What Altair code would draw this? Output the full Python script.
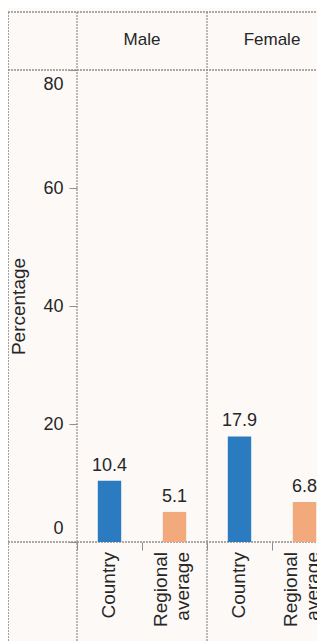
import altair as alt
import pandas as pd

sexes = ["Male", "Female"]
groups = ["Country", "Regional average"]
male_values = [10.4, 5.1]
female_values = [17.9, 6.8]
y_ticks = [0, 20, 40, 60, 80]

rows = []
for sex, vals in zip(sexes, [male_values, female_values]):
    for g, v in zip(groups, vals):
        rows.append({"sex": sex, "group": g, "key": f"{sex}:{g}", "value": v})
df = pd.DataFrame(rows)
keys = list(df["key"])
hdr = pd.DataFrame({"sex": sexes})

FONT = "Liberation Sans"
TXT = "#262626"
LINE = "#8f8f8f"
BLUE = "#2a7bbf"
ORANGE = "#f2aa7c"

xkey = alt.X(
    "key:N",
    sort=keys,
    scale=alt.Scale(domain=keys, range=[0, 260], paddingInner=0, paddingOuter=0),
    axis=alt.Axis(
        title=None,
        orient="bottom",
        domain=False,
        tickBand="extent",
        tickSize=8,
        tickColor=LINE,
        labels=False,
    ),
)
yval = alt.Y(
    "value:Q",
    scale=alt.Scale(domain=[0, 80], nice=False, zero=True),
    axis=alt.Axis(
        values=y_ticks,
        title="Percentage",
        titleFont=FONT,
        titleFontSize=19,
        titleFontWeight="normal",
        titleColor=TXT,
        titlePadding=14,
        domain=False,
        grid=False,
        tickSize=8,
        tickColor=LINE,
        labelPadding=6,
        labelFont=FONT,
        labelFontSize=18,
        labelColor=TXT,
        labelFlush=True,
        labelFlushOffset=-5,
    ),
)

base = alt.Chart(df)
bars = base.mark_bar(width=alt.RelativeBandSize(0.36)).encode(
    x=xkey,
    y=yval,
    color=alt.Color("group:N", scale=alt.Scale(domain=groups, range=[BLUE, ORANGE]), legend=None),
)
labels = base.mark_text(
    dy=-10, baseline="alphabetic", font=FONT, fontSize=18, color=TXT
).encode(x=xkey, y="value:Q", text=alt.Text("value:Q", format=".1f"))

cat_country = base.transform_filter(alt.datum.group == groups[0]).mark_text(
    angle=270, align="right", baseline="middle", dy=-1,
    font=FONT, fontSize=19, color=TXT,
).encode(x=xkey, y=alt.value(482), text="group:N")
cat_regional = base.transform_filter(alt.datum.group == groups[1]).mark_text(
    angle=270, align="right", baseline="middle", dy=-14, lineBreak=" ", lineHeight=22,
    font=FONT, fontSize=19, color=TXT,
).encode(x=xkey, y=alt.value(482), text="group:N")

xsex = alt.X("sex:N", sort=sexes, scale=alt.Scale(domain=sexes, range=[0, 260], paddingInner=0, paddingOuter=0), axis=None)
header_text = alt.Chart(hdr).mark_text(
    font=FONT, fontSize=17, color=TXT, baseline="middle"
).encode(x=xsex, y=alt.value(-30), text="sex:N")
header_rules = alt.Chart(hdr).mark_rule(color=LINE, strokeWidth=1.2, strokeDash=[2, 1]).encode(
    x=alt.X("sex:N", sort=sexes, bandPosition=0, scale=alt.Scale(domain=sexes, range=[0, 260], paddingInner=0, paddingOuter=0), axis=None),
    y=alt.value(-58),
    y2=alt.value(575),
)
header = alt.layer(header_text, header_rules)

def hline(yv):
    return alt.Chart(hdr).mark_rule(color=LINE, strokeWidth=1.2, strokeDash=[2, 1]).encode(
        x=alt.value(-69), x2=alt.value(240), y=alt.value(yv)
    )

left_border = alt.Chart(hdr).mark_rule(color=LINE, strokeWidth=1.2, strokeDash=[2, 1]).encode(
    x=alt.value(-69), y=alt.value(-58), y2=alt.value(575)
)

chart = alt.layer(
    hline(-58), hline(0), hline(472), left_border,
    alt.layer(bars, labels, cat_country, cat_regional), header,
).resolve_scale(x="independent").properties(
    width=240,
    height=472,
    padding={"left": 69, "top": 62, "right": 0, "bottom": 99},
    autosize=alt.AutoSizeParams(type="none"),
    background="#fcf9f7",
).configure_view(stroke=None)

chart.save("out.html", embed_options={"renderer": "svg", "actions": False})
